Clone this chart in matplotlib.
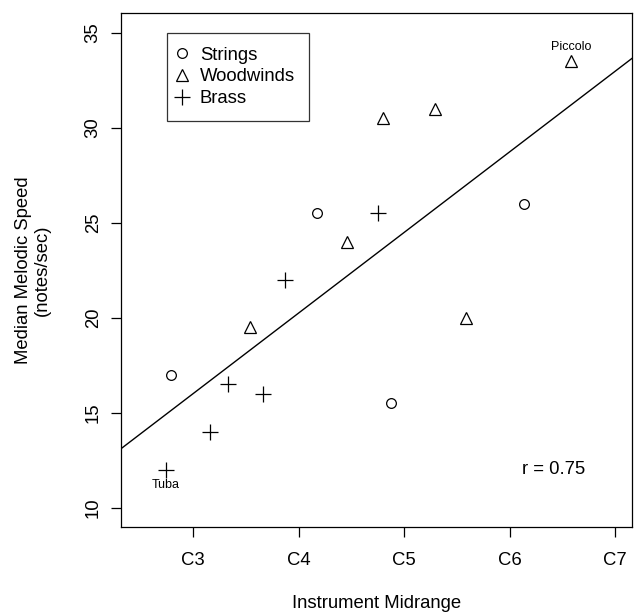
import numpy as np
import matplotlib.pyplot as plt

plt.rcParams['font.family'] = ['Liberation Sans', 'DejaVu Sans']

# midrange in octave units (C3 = 3, C4 = 4, ...), speed in notes/sec
str_x = [2.79, 4.17, 4.88, 6.14]
str_y = [17.0, 25.5, 15.5, 26.0]
ww_x = [3.54, 4.46, 4.80, 5.29, 5.59, 6.58]
ww_y = [19.5, 24.0, 30.5, 31.0, 20.0, 33.5]
br_x = [2.74, 3.16, 3.33, 3.66, 3.87, 4.75]
br_y = [12.0, 14.0, 16.5, 16.0, 22.0, 25.5]
xticks = [3, 4, 5, 6, 7]
xlabels = ['C3', 'C4', 'C5', 'C6', 'C7']
yticks = [10, 15, 20, 25, 30, 35]

fs = 13.3

fig = plt.figure(figsize=(6.34, 6.14), dpi=100)
ax = fig.add_axes([0.191, 0.1417, 0.806, 0.8373])

ax.plot(str_x, str_y, 'o', mfc='none', mec='black', ms=7, mew=0.9, ls='none', label='Strings')
ax.plot(ww_x, ww_y, '^', mfc='none', mec='black', ms=8.5, mew=0.9, ls='none', label='Woodwinds')
ax.plot(br_x, br_y, '+', color='black', ms=11, mew=0.9, ls='none', label='Brass')

# least squares line through all instruments
allx = np.array(str_x + ww_x + br_x)
ally = np.array(str_y + ww_y + br_y)
b, a = np.polyfit(allx, ally, 1)
xl = np.array([2.0, 8.0])
ax.plot(xl, a + b * xl, color='black', lw=1)

ax.text(6.58, 33.95, 'Piccolo', ha='center', va='bottom', fontsize=9)
ax.text(2.74, 11.5, 'Tuba', ha='center', va='top', fontsize=9)
ax.text(6.416, 12.0, 'r = 0.75', ha='center', va='center', fontsize=fs)

ax.set_xlim(2.318, 7.16)
ax.set_ylim(9.0, 36.05)
ax.set_xticks(xticks)
ax.set_xticklabels(xlabels, fontsize=fs)
ax.set_yticks(yticks)
ax.set_yticklabels([str(v) for v in yticks], fontsize=fs, rotation=90, va='center')
ax.tick_params(length=7, width=0.9)
ax.tick_params(axis='x', pad=11)
ax.tick_params(axis='y', pad=7)
for s in ax.spines.values():
    s.set_linewidth(0.9)

ax.set_xlabel('Instrument Midrange', fontsize=fs, labelpad=19)
ax.set_ylabel('Median Melodic Speed\n(notes/sec)', fontsize=fs, labelpad=24)

leg = ax.legend(loc='upper left', bbox_to_anchor=(0.09, 0.961), fontsize=fs, frameon=True,
                fancybox=False, handletextpad=0.92, borderpad=0.75, labelspacing=0.25,
                handlelength=0.1, borderaxespad=0, numpoints=1)
leg.get_frame().set_edgecolor('black')
leg.get_frame().set_linewidth(0.9)

fig.savefig('out.png')
